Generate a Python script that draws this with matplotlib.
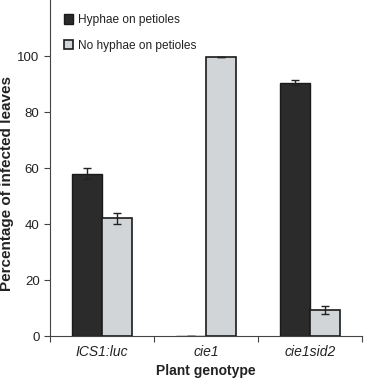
import matplotlib
matplotlib.use("Agg")
import matplotlib.pyplot as plt
import numpy as np

plt.rcParams['font.family'] = ['Liberation Sans', 'DejaVu Sans']

genotypes = ["ICS1:luc", "cie1", "cie1sid2"]
hyphae = [58, 0, 90.5]
hyphae_err = [2, 0, 1]
no_hyphae = [42, 99.5, 9.3]
no_hyphae_err = [2, 0, 1.5]
series_names = ["Hyphae on petioles", "No hyphae on petioles"]
yticks = [0, 20, 40, 60, 80, 100]

fig = plt.figure(figsize=(3.65, 3.83), dpi=100)
ax = fig.add_axes([0.137, 0.1227, 0.855, 0.8773])
x = np.arange(len(genotypes))
w = 0.29
dark = "#2b2b2b"
light = "#d2d5d7"
ax.bar(x - w/2, hyphae, w, color=dark, edgecolor="#1a1a1a", linewidth=1.0,
       yerr=hyphae_err, capsize=3, error_kw=dict(ecolor="#222222", elinewidth=1, capthick=1),
       label=series_names[0])
ax.bar(x + w/2, no_hyphae, w, color=light, edgecolor="#1a1a1a", linewidth=1.2,
       yerr=no_hyphae_err, capsize=3, error_kw=dict(ecolor="#222222", elinewidth=1, capthick=1),
       label=series_names[1])

ax.set_xlim(-0.5, 2.5)
ax.set_ylim(0, 120)
ax.set_yticks(yticks)
ax.set_xticks([-0.5, 0.5, 1.5, 2.5])
ax.set_xticklabels([])
ax.set_xticks(x, minor=True)
ax.set_xticklabels(genotypes, minor=True, style="italic", fontsize=10, color="#222222")
ax.tick_params(axis="x", which="minor", length=0, pad=6.5)
ax.tick_params(axis="x", which="major", length=4, color="#444444")
ax.tick_params(axis="y", length=4, labelsize=9.5, color="#444444", pad=3.5, labelcolor="#222222")
for s in ["top", "right"]:
    ax.spines[s].set_visible(False)
for s in ["left", "bottom"]:
    ax.spines[s].set_color("#444444")
ax.set_ylabel("Percentage of infected leaves", fontweight="bold", fontsize=11, color="#222222")
ax.yaxis.set_label_coords(-0.114, 0.454)
ax.set_xlabel("Plant genotype", fontweight="bold", fontsize=10, color="#222222")
ax.xaxis.set_label_coords(0.5, -0.084)
leg = ax.legend(loc="upper left", bbox_to_anchor=(0.01, 0.99), frameon=False,
                fontsize=8.6, handlelength=0.8, handleheight=0.8, labelspacing=1.15,
                handletextpad=0.35)
for t in leg.get_texts():
    t.set_color("#222222")
fig.savefig("out.png", dpi=100)
